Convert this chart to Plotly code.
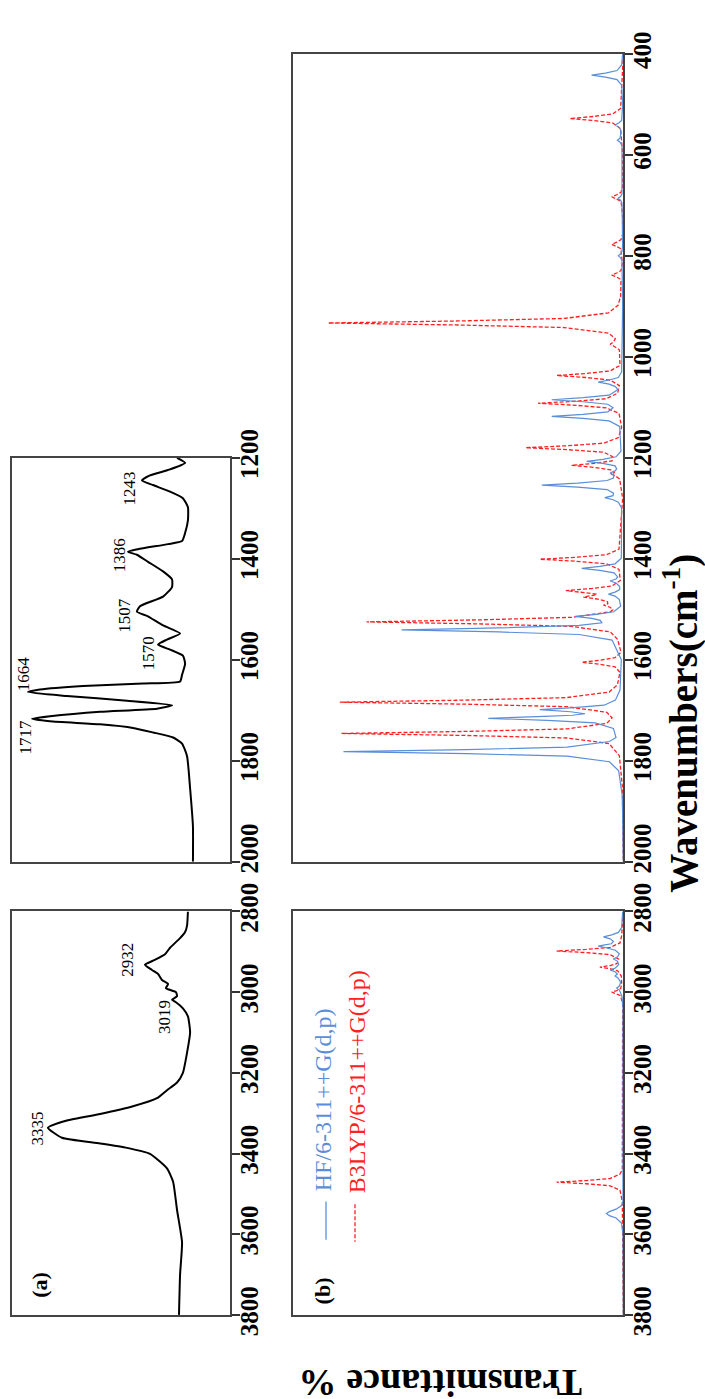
import plotly.graph_objects as go

# ---------------- data ----------------
# (a) experimental FT-IR, wavenumber (cm-1) and transmittance (arbitrary %)
exp_low_wn = [1200, 1210, 1223, 1235, 1245, 1254, 1267, 1280, 1298, 1324, 1349, 1365, 1371, 1381, 1386, 1392,
              1406, 1425, 1441, 1456, 1475, 1494, 1505, 1513, 1532, 1548, 1560, 1570, 1580, 1592, 1608, 1630,
              1643, 1647, 1652, 1659, 1664, 1672, 1681, 1690, 1697, 1703, 1712, 1717, 1722, 1728, 1735, 1744,
              1754, 1766, 1791, 1855, 1930, 2000]
exp_low_T = [75.7, 79.4, 72.5, 63.3, 59.6, 64.7, 72.5, 78.4, 80.7, 80.7, 79.4, 78.0, 71.6, 57.8, 53.2, 57.3,
             62.4, 69.3, 73.4, 73.4, 69.3, 58.7, 57.3, 61.9, 69.3, 77.1, 71.1, 67.0, 72.5, 78.4, 79.4, 78.0,
             77.1, 60.1, 32.6, 12.8, 7.3, 25.2, 52.8, 73.4, 66.5, 40.4, 17.4, 9.2, 17.4, 40.4, 55.5, 64.7,
             73.9, 78.0, 80.3, 81.7, 83.0, 83.0]

exp_high_wn = [2800, 2835, 2851, 2866, 2890, 2906, 2922, 2932, 2945, 2955, 2970, 2980, 2990, 3000, 3010, 3019,
               3025, 3040, 3060, 3100, 3150, 3200, 3224, 3243, 3263, 3283, 3302, 3318, 3336, 3361, 3375, 3386,
               3401, 3437, 3470, 3540, 3620, 3700, 3800]
exp_high_T = [80.7, 80.3, 79.4, 77.1, 72.5, 70.2, 64.7, 61.0, 64.2, 67.0, 68.8, 71.6, 70.6, 75.2, 75.7, 73.4,
              75.2, 78.4, 80.7, 81.7, 80.3, 78.4, 75.7, 71.1, 66.5, 55.5, 40.4, 25.2, 16.5, 22.9, 40.4, 52.8,
              63.3, 71.1, 73.9, 75.7, 78.0, 77.1, 76.6]

exp_peak_labels = ["1243", "1386", "1507", "1570", "1664", "1717", "2932", "3019", "3335"]
exp_label_wn = [1261, 1393, 1511, 1587, 1627, 1754, 2920, 3062, 3338]
exp_label_T = [54.1, 49.1, 51.8, 62.4, 5.0, 6.0, 53.2, 69.7, 11.9]

# (b) computed spectra (wavenumber, transmittance)
hf_low = [(400, 99.8), (422, 99.5), (433, 98.1), (438, 94.6), (442, 90.4), (446, 94.6), (451, 98.1), (462, 99.5),
          (500, 99.8), (521, 99.6), (532, 99.5), (537, 98.6), (541, 97.5), (545, 98.6), (550, 99.2), (560, 99.2),
          (567, 99.0), (571, 98.2), (575, 99.0), (582, 99.6), (670, 99.8), (677, 99.6), (682, 99.2), (686, 98.5),
          (690, 99.2), (695, 99.6), (780, 99.8), (791, 99.6), (796, 99.2), (800, 98.5), (804, 99.2), (809, 99.6),
          (900, 99.8), (1000, 99.6), (1030, 99.5), (1041, 98.5), (1046, 95.7), (1050, 92.4), (1054, 95.7),
          (1059, 97.6), (1065, 98.4), (1076, 95.7), (1081, 87.8), (1085, 78.3), (1089, 87.8), (1094, 95.3),
          (1101, 96.9), (1109, 95.3), (1114, 87.8), (1118, 78.3), (1122, 87.8), (1127, 95.7), (1138, 98.9),
          (1187, 99.3), (1198, 97.8), (1203, 93.8), (1207, 88.9), (1211, 93.8), (1216, 97.5), (1222, 98.0),
          (1226, 97.5), (1230, 96.0), (1234, 97.2), (1240, 97.0), (1245, 95.1), (1250, 86.2), (1254, 75.3),
          (1258, 86.2), (1263, 95.1), (1270, 97.0), (1275, 96.9), (1279, 94.4), (1283, 96.9), (1288, 98.5),
          (1300, 99.5), (1399, 99.4), (1410, 97.5), (1415, 92.9), (1419, 87.4), (1423, 92.9), (1428, 97.2),
          (1436, 98.3), (1440, 97.8), (1444, 96.0), (1448, 97.8), (1455, 98.9), (1461, 98.9), (1466, 97.5),
          (1470, 95.5), (1474, 97.5), (1481, 98.8), (1494, 99.2), (1505, 97.1), (1510, 91.8), (1514, 85.4),
          (1518, 90.5), (1522, 93.0), (1527, 93.5), (1532, 86.6), (1537, 62.4), (1541, 32.8), (1545, 62.4),
          (1550, 86.6), (1561, 96.6), (1600, 99.4), (1660, 99.0), (1680, 97.6), (1690, 94.2), (1695, 85.0),
          (1699, 74.7), (1703, 84.0), (1707, 88.4), (1710, 84.5), (1712, 76.0), (1716, 59.1), (1720, 77.0),
          (1725, 91.5), (1736, 97.0), (1754, 97.8), (1762, 95.8), (1773, 83.0), (1778, 52.5), (1782, 15.2),
          (1786, 52.5), (1791, 83.0), (1802, 95.8), (1820, 98.6), (1870, 99.7), (2000, 100)]

b3lyp_low = [(400, 100), (470, 99.6), (508, 99.2), (519, 96.8), (524, 90.9), (528, 83.8), (532, 90.9), (537, 96.8),
             (548, 99.2), (600, 99.8), (663, 99.8), (674, 99.3), (679, 98.0), (683, 96.5), (687, 98.0), (692, 99.3),
             (720, 99.8), (757, 99.8), (768, 99.3), (773, 98.0), (777, 96.5), (781, 98.0), (786, 99.3), (815, 99.7),
             (829, 99.3), (834, 98.0), (838, 96.5), (842, 98.0), (847, 99.3), (880, 99.2), (898, 98.4), (913, 95.5),
             (924, 82.1), (929, 49.9), (933, 10.6), (937, 49.9), (942, 82.1), (953, 95.5), (964, 97.6), (971, 97.0),
             (975, 96.0), (979, 97.2), (986, 98.8), (1017, 99.0), (1028, 96.0), (1033, 88.7), (1037, 79.8),
             (1041, 88.7), (1046, 96.0), (1057, 98.8), (1072, 98.3), (1083, 94.8), (1088, 85.6), (1092, 74.2),
             (1096, 85.6), (1101, 94.8), (1112, 98.7), (1140, 99.5), (1160, 98.5), (1171, 94.1), (1176, 83.4),
             (1180, 70.4), (1184, 83.4), (1189, 94.1), (1198, 96.8), (1206, 96.6), (1211, 91.2), (1215, 84.3),
             (1219, 91.2), (1224, 96.2), (1229, 97.4), (1232, 96.3), (1236, 97.6), (1242, 98.9), (1280, 99.8),
             (1381, 98.7), (1392, 94.9), (1397, 85.8), (1401, 74.7), (1405, 85.8), (1410, 94.9), (1421, 98.7),
             (1443, 99.1), (1454, 96.5), (1459, 90.3), (1463, 82.6), (1467, 89.0), (1470, 92.0), (1472, 91.2),
             (1476, 87.9), (1480, 92.3), (1485, 95.2), (1489, 95.3), (1492, 94.0), (1496, 96.0), (1501, 96.8),
             (1505, 96.1), (1516, 84.4), (1521, 56.4), (1525, 22.2), (1529, 56.4), (1534, 84.4), (1545, 96.1),
             (1560, 98.3), (1585, 99.3), (1596, 97.5), (1601, 92.9), (1605, 87.4), (1609, 92.9), (1614, 97.5),
             (1625, 99.0), (1650, 98.2), (1664, 95.7), (1675, 82.8), (1680, 51.9), (1684, 14.1), (1688, 51.9),
             (1693, 82.8), (1704, 95.0), (1715, 96.6), (1726, 95.0), (1737, 82.9), (1742, 52.2), (1746, 14.6),
             (1750, 52.2), (1755, 82.9), (1766, 95.7), (1790, 98.8), (1850, 99.7), (2000, 100)]

hf_high = [(2800, 99.8), (2840, 99.5), (2852, 98.5), (2858, 96.5), (2863, 94.0), (2868, 96.0), (2874, 97.0),
           (2880, 96.4), (2883, 94.4), (2886, 92.4), (2890, 94.8), (2896, 97.6), (2905, 98.8), (2913, 98.2),
           (2918, 97.0), (2923, 98.2), (2932, 98.6), (2940, 97.6), (2945, 96.0), (2950, 97.6), (2955, 98.2),
           (2960, 97.5), (2965, 98.4), (2975, 99.2), (2985, 98.8), (2990, 98.0), (2995, 98.8), (3010, 99.6),
           (3040, 99.9), (3520, 99.9), (3529, 99.5), (3538, 97.8), (3544, 95.8), (3549, 94.9), (3554, 95.8),
           (3560, 97.8), (3573, 99.5), (3600, 99.9), (3800, 100)]

b3lyp_high = [(2800, 100), (2860, 99.5), (2878, 99.0), (2889, 96.0), (2894, 88.7), (2898, 79.8), (2902, 88.7),
              (2907, 96.0), (2918, 98.6), (2929, 98.1), (2934, 96.0), (2938, 92.9), (2942, 96.0), (2947, 98.3),
              (2960, 99.4), (2980, 99.5), (2991, 99.2), (2996, 98.0), (3000, 96.5), (3004, 98.0), (3009, 99.2),
              (3030, 99.8), (3440, 99.7), (3451, 99.0), (3462, 96.0), (3467, 88.7), (3471, 79.8), (3475, 88.7),
              (3480, 96.0), (3491, 99.0), (3520, 99.7), (3800, 100)]

series_names = ["HF/6-311++G(d,p)", "B3LYP/6-311++G(d,p)"]
low_ticks_a = [1200, 1400, 1600, 1800, 2000]
low_ticks_b = [400, 600, 800, 1000, 1200, 1400, 1600, 1800, 2000]
high_ticks = [2800, 3000, 3200, 3400, 3600, 3800]

# ---------------- styling ----------------
W, H = 705, 1399
SERIF = "Liberation Serif"
BLUE = "#5a8ed8"
RED = "#ff2020"
BOX = "#444444"
NB = "\u00a0"


def px_x(p):
    return p / W


def px_y(p):
    return 1 - p / H


def tick_text(vals):
    # the 2000 label sits slightly above its tick in the original to clear the 2800 label
    return [(NB * 3 + str(v)) if v == 2000 else str(v) for v in vals]


fig = go.Figure()

# experimental
fig.add_trace(go.Scatter(x=exp_low_T, y=exp_low_wn, mode="lines", xaxis="x", yaxis="y",
                         line=dict(color="black", width=2, shape="spline", smoothing=0.5), showlegend=False))
fig.add_trace(go.Scatter(x=exp_high_T, y=exp_high_wn, mode="lines", xaxis="x2", yaxis="y2",
                         line=dict(color="black", width=2, shape="spline", smoothing=0.5), showlegend=False))

# computed
for data, ax, ay in [(b3lyp_low, "x3", "y3"), (b3lyp_high, "x4", "y4")]:
    fig.add_trace(go.Scatter(x=[t for _, t in data], y=[w for w, _ in data], mode="lines", xaxis=ax, yaxis=ay,
                             line=dict(color=RED, width=1.3, dash="4px,2px"), showlegend=False))
for data, ax, ay in [(hf_low, "x3", "y3"), (hf_high, "x4", "y4")]:
    fig.add_trace(go.Scatter(x=[t for _, t in data], y=[w for w, _ in data], mode="lines", xaxis=ax, yaxis=ay,
                             line=dict(color=BLUE, width=1.2), showlegend=False))

xa_dom = [px_x(12), px_x(230)]
xb_dom = [px_x(293.3), px_x(623.3)]
top_a_dom = [px_y(870), px_y(448)]
top_b_dom = [px_y(870), px_y(26)]
bot_dom = [px_y(1343.5), px_y(922)]


def xaxis(dom, anchor):
    return dict(domain=dom, anchor=anchor, range=[0, 100], showline=True, linecolor=BOX, linewidth=1.5,
                mirror=True, showticklabels=False, ticks="", showgrid=False, zeroline=False, fixedrange=True)


def yaxis(dom, anchor, rng, ticks):
    return dict(domain=dom, anchor=anchor, range=rng, side="right", tickvals=ticks, ticktext=tick_text(ticks),
                ticks="outside", ticklen=8,
                tickwidth=1.5, tickcolor="#333", tickangle=-90, ticklabelstandoff=-12,
                showline=True, linecolor=BOX, linewidth=1.5,
                mirror=True, showgrid=False, zeroline=False,
                tickfont=dict(family=SERIF, size=25, color="black", weight="bold"))


fig.update_layout(
    width=W, height=H, paper_bgcolor="white", plot_bgcolor="white",
    margin=dict(l=0, r=0, t=0, b=0), showlegend=False,
    xaxis=xaxis(xa_dom, "y"), yaxis=yaxis(top_a_dom, "x", [2000, 1200], low_ticks_a),
    xaxis2=xaxis(xa_dom, "y2"), yaxis2=yaxis(bot_dom, "x2", [3800, 2800], high_ticks),
    xaxis3=xaxis(xb_dom, "y3"), yaxis3=yaxis(top_b_dom, "x3", [2000, 400], low_ticks_b),
    xaxis4=xaxis(xb_dom, "y4"), yaxis4=yaxis(bot_dom, "x4", [3800, 2800], high_ticks),
)

ann = []
for lab, wn, t in zip(exp_peak_labels, exp_label_wn, exp_label_T):
    ref = ("x", "y") if wn < 2400 else ("x2", "y2")
    ann.append(dict(text=lab, x=t, y=wn, xref=ref[0], yref=ref[1], showarrow=False, textangle=-90,
                    font=dict(family=SERIF, size=17, color="black"), xanchor="center", yanchor="middle"))

ann.append(dict(text="<b>(a)</b>", x=px_x(40), y=px_y(1312), xref="paper", yref="paper", showarrow=False,
                textangle=-90, xanchor="center", yanchor="middle", font=dict(family=SERIF, size=22, color="black")))
ann.append(dict(text="<b>(b)</b>", x=px_x(322), y=px_y(1319), xref="paper", yref="paper", showarrow=False,
                textangle=-90, xanchor="center", yanchor="middle", font=dict(family=SERIF, size=22, color="black")))
ann.append(dict(text=series_names[0], x=px_x(323), y=px_y(1217), xref="paper", yref="paper", showarrow=False,
                textangle=-90, xanchor="center", yanchor="bottom", font=dict(family=SERIF, size=24, color=BLUE)))
ann.append(dict(text=series_names[1], x=px_x(357), y=px_y(1218), xref="paper", yref="paper", showarrow=False,
                textangle=-90, xanchor="center", yanchor="bottom", font=dict(family=SERIF, size=24, color=RED)))
ann.append(dict(text="<b>Wavenumbers(cm<sup>-1</sup>)</b>", x=px_x(681), y=px_y(726), xref="paper",
                yref="paper", showarrow=False, textangle=-90, xanchor="center", yanchor="middle",
                font=dict(family=SERIF, size=39, color="black")))
ann.append(dict(text="<b>Transmittance %</b>", x=px_x(441), y=px_y(1414), xref="paper", yref="paper",
                showarrow=False, textangle=180, xanchor="center", yanchor="middle",
                font=dict(family=SERIF, size=38, color="black")))
fig.update_layout(annotations=ann)

fig.add_shape(type="line", xref="paper", yref="paper", x0=px_x(326), x1=px_x(326), y0=px_y(1225),
              y1=px_y(1265), line=dict(color=BLUE, width=1.3))
fig.add_shape(type="line", xref="paper", yref="paper", x0=px_x(355), x1=px_x(355), y0=px_y(1228),
              y1=px_y(1267), line=dict(color=RED, width=1.3, dash="4px,2px"))

fig.write_html("out.html")
